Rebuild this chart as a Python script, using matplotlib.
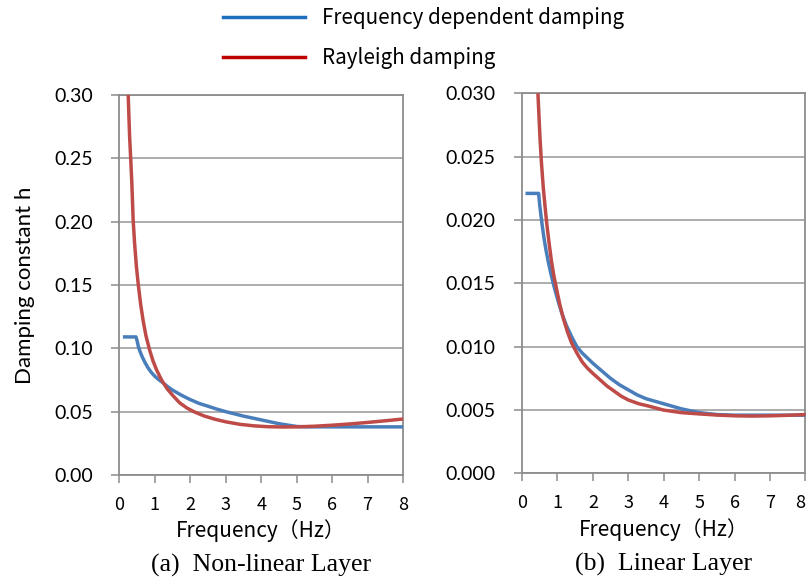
import matplotlib
matplotlib.use("Agg")
import matplotlib.pyplot as plt
from matplotlib.lines import Line2D

# values
# (a) non-linear layer
nl_freq_blue = [0.1, 0.47, 0.50, 0.54, 0.59, 0.65, 0.72, 0.80, 0.90, 1.0, 1.1, 1.2, 1.35,
                1.5, 1.75, 2.0, 2.25, 2.5, 2.75, 3.0, 3.5, 4.0, 4.5, 5.0, 5.3, 6.0, 7.0, 8.0]
nl_h_blue = [0.109, 0.109, 0.106, 0.101, 0.097, 0.093, 0.089, 0.085, 0.081, 0.078, 0.0755,
             0.0735, 0.070, 0.067, 0.063, 0.0595, 0.0565, 0.0543, 0.052, 0.050, 0.0465,
             0.0435, 0.0405, 0.0383, 0.038, 0.038, 0.038, 0.038]
nl_freq_red = [0.25, 0.27, 0.29, 0.32, 0.35, 0.39, 0.43, 0.48, 0.535, 0.60, 0.67, 0.75,
               0.85, 0.95, 1.05, 1.19, 1.35, 1.5, 1.7, 1.9, 2.1, 2.4, 2.7, 3.0, 3.4, 3.8,
               4.2, 4.6, 5.0, 5.5, 6.0, 6.5, 7.0, 7.5, 8.0]
nl_h_red = [0.300, 0.283, 0.267, 0.250, 0.232, 0.201, 0.183, 0.165, 0.150, 0.135, 0.122,
            0.110, 0.099, 0.090, 0.083, 0.075, 0.068, 0.063, 0.057, 0.053, 0.050, 0.0465,
            0.0440, 0.0420, 0.0400, 0.0388, 0.0381, 0.0379, 0.0380, 0.0385, 0.0393,
            0.0403, 0.0415, 0.0428, 0.0442]

# (b) linear layer
l_freq_blue = [0.1, 0.47, 0.50, 0.53, 0.57, 0.62, 0.68, 0.75, 0.83, 0.92, 1.02, 1.13,
               1.25, 1.40, 1.55, 1.70, 1.85, 2.0, 2.25, 2.5, 2.75, 3.0, 3.25, 3.5, 3.75,
               4.0, 4.5, 5.0, 5.5, 6.0, 7.0, 8.0]
l_h_blue = [0.0221, 0.0221, 0.0212, 0.0205, 0.0196, 0.0186, 0.0176, 0.0166, 0.0156,
            0.0146, 0.0136, 0.0126, 0.0117, 0.0108, 0.0100, 0.0095, 0.0091, 0.0087,
            0.0081, 0.0075, 0.0070, 0.0066, 0.0062, 0.0059, 0.0057, 0.0055, 0.0051,
            0.0048, 0.00465, 0.0046, 0.0046, 0.0046]
l_freq_red = [0.45, 0.48, 0.51, 0.55, 0.60, 0.65, 0.70, 0.76, 0.83, 0.90, 0.98, 1.07,
              1.17, 1.28, 1.40, 1.55, 1.70, 1.85, 2.0, 2.2, 2.4, 2.6, 2.8, 3.0, 3.3, 3.6,
              4.0, 4.5, 5.0, 5.5, 6.0, 6.5, 7.0, 7.5, 8.0]
l_h_red = [0.0300, 0.0282, 0.0264, 0.0245, 0.0226, 0.0211, 0.0197, 0.0183, 0.0168,
           0.0156, 0.0145, 0.0133, 0.0122, 0.0112, 0.0103, 0.0095, 0.0088, 0.0083,
           0.0079, 0.0074, 0.0069, 0.0065, 0.0061, 0.0058, 0.0055, 0.0053, 0.0050,
           0.0048, 0.0047, 0.00461, 0.00455, 0.00453, 0.00455, 0.00459, 0.00465]

x_ticks = [0, 1, 2, 3, 4, 5, 6, 7, 8]
nl_y_ticks = [0.00, 0.05, 0.10, 0.15, 0.20, 0.25, 0.30]
l_y_ticks = [0.000, 0.005, 0.010, 0.015, 0.020, 0.025, 0.030]

labels = ["Frequency dependent damping", "Rayleigh damping"]
captions = ["(a)  Non-linear Layer", "(b)  Linear Layer"]

blue = "#4a7ebb"
red = "#be4b48"
grey = "#8c8c8c"
jp = ["Noto Sans CJK JP", "DejaVu Sans"]
lat = "Lato"

fig = plt.figure(figsize=(8.08, 5.87), dpi=100)
ax1 = fig.add_axes([0.1477, 0.1908, 0.3511, 0.6474])
ax2 = fig.add_axes([0.6460, 0.1934, 0.3509, 0.6477])

panels = [
    (ax1, nl_freq_blue, nl_h_blue, nl_freq_red, nl_h_red, nl_y_ticks, "{:.2f}"),
    (ax2, l_freq_blue, l_h_blue, l_freq_red, l_h_red, l_y_ticks, "{:.3f}"),
]

for ax, fb, hb, fr, hr, yt, fmt in panels:
    ax.plot(fb, hb, color=blue, lw=2.5, solid_capstyle="butt", solid_joinstyle="round",
            zorder=3, clip_on=False)
    ax.plot(fr, hr, color=red, lw=2.5, solid_capstyle="butt", solid_joinstyle="round",
            zorder=4, clip_on=False)
    ax.set_xlim(0, 8)
    ax.set_ylim(yt[0], yt[-1])
    ax.set_xticks(x_ticks)
    ax.set_yticks(yt)
    ax.set_xticklabels([str(t) for t in x_ticks], family=jp, fontsize=13)
    ax.set_yticklabels([fmt.format(t) for t in yt], family=lat, fontsize=14)
    ax.yaxis.grid(True, color="#a6a6a6", lw=1.3)
    ax.set_axisbelow(True)
    for s in ax.spines.values():
        s.set_color(grey)
        s.set_linewidth(1.3)
    ax.tick_params(axis="both", direction="out", length=6, width=1.1, color=grey)
    ax.tick_params(axis="y", pad=13)
    ax.tick_params(axis="x", pad=9)
    ax.set_xlabel("Frequency（Hz）", family=jp, fontsize=15, labelpad=4)

# last tick label of the right panel sits at the figure edge
ax2.get_xticklabels()[-1].set_horizontalalignment("right")

ax1.set_ylabel("Damping constant h", family=lat, fontsize=16, labelpad=14)

for ax, cap in zip([ax1, ax2], captions):
    ax.text(0.5, -0.238, cap, transform=ax.transAxes, ha="center", va="center",
            family="Liberation Serif", fontsize=18.5)

handles = [Line2D([], [], color="#1f6fc0", lw=2.5), Line2D([], [], color="#c00000", lw=2.5)]
fig.legend(handles, labels, loc="upper left", bbox_to_anchor=(0.276, 0.988),
           frameon=False, borderpad=0, borderaxespad=0, handlelength=4.0,
           handletextpad=0.8, labelspacing=0.88, prop={"family": jp, "size": 14.8})

fig.savefig("out.png", dpi=100)
